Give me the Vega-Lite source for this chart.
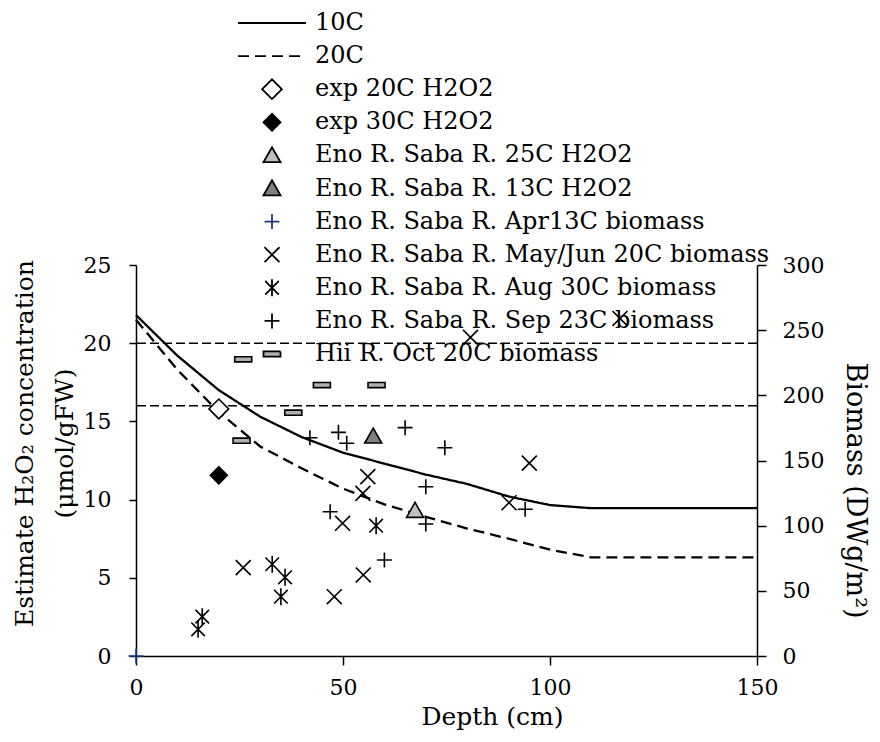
{
  "$schema": "https://vega.github.io/schema/vega-lite/v6.json",
  "width": 621,
  "height": 391,
  "autosize": "none",
  "padding": {"left": 136, "top": 265, "right": 123, "bottom": 86},
  "background": "white",
  "datasets": {
    "lines": [
      {"series": "10C", "depth": 0, "h2o2": 21.8},
      {"series": "10C", "depth": 10, "h2o2": 19.2},
      {"series": "10C", "depth": 20, "h2o2": 17.0},
      {"series": "10C", "depth": 30, "h2o2": 15.3},
      {"series": "10C", "depth": 40, "h2o2": 14.0},
      {"series": "10C", "depth": 50, "h2o2": 13.0},
      {"series": "10C", "depth": 60, "h2o2": 12.3},
      {"series": "10C", "depth": 70, "h2o2": 11.6},
      {"series": "10C", "depth": 80, "h2o2": 11.0},
      {"series": "10C", "depth": 90, "h2o2": 10.2},
      {"series": "10C", "depth": 100, "h2o2": 9.65},
      {"series": "10C", "depth": 110, "h2o2": 9.45},
      {"series": "10C", "depth": 120, "h2o2": 9.45},
      {"series": "10C", "depth": 130, "h2o2": 9.45},
      {"series": "10C", "depth": 140, "h2o2": 9.45},
      {"series": "10C", "depth": 150, "h2o2": 9.45},
      {"series": "20C", "depth": 0, "h2o2": 21.5},
      {"series": "20C", "depth": 10, "h2o2": 18.3},
      {"series": "20C", "depth": 20, "h2o2": 15.6},
      {"series": "20C", "depth": 30, "h2o2": 13.4},
      {"series": "20C", "depth": 40, "h2o2": 12.0},
      {"series": "20C", "depth": 50, "h2o2": 10.7},
      {"series": "20C", "depth": 60, "h2o2": 9.7},
      {"series": "20C", "depth": 70, "h2o2": 8.9},
      {"series": "20C", "depth": 80, "h2o2": 8.15},
      {"series": "20C", "depth": 90, "h2o2": 7.5},
      {"series": "20C", "depth": 100, "h2o2": 6.8},
      {"series": "20C", "depth": 110, "h2o2": 6.3},
      {"series": "20C", "depth": 120, "h2o2": 6.3},
      {"series": "20C", "depth": 130, "h2o2": 6.3},
      {"series": "20C", "depth": 140, "h2o2": 6.3},
      {"series": "20C", "depth": 150, "h2o2": 6.3}
    ],
    "refs": [
      {"h2o2": 20},
      {"h2o2": 16}
    ],
    "h2o2pts": [
      {"series": "exp 20C H2O2", "depth": 20, "h2o2": 15.8},
      {"series": "exp 30C H2O2", "depth": 20, "h2o2": 11.55},
      {"series": "Eno R. Saba R. 25C H2O2", "depth": 67.4, "h2o2": 9.3},
      {"series": "Eno R. Saba R. 13C H2O2", "depth": 57.3, "h2o2": 14.05}
    ],
    "bio": [
      {"series": "Eno R. Saba R. Apr13C biomass", "depth": 0, "biomass": 0},
      {"series": "Eno R. Saba R. May/Jun 20C biomass", "depth": 116.9, "biomass": 259},
      {"series": "Eno R. Saba R. May/Jun 20C biomass", "depth": 80.8, "biomass": 244.5},
      {"series": "Eno R. Saba R. May/Jun 20C biomass", "depth": 95.0, "biomass": 148},
      {"series": "Eno R. Saba R. May/Jun 20C biomass", "depth": 90.1, "biomass": 117.6},
      {"series": "Eno R. Saba R. May/Jun 20C biomass", "depth": 56.0, "biomass": 137.6},
      {"series": "Eno R. Saba R. May/Jun 20C biomass", "depth": 54.8, "biomass": 124.8},
      {"series": "Eno R. Saba R. May/Jun 20C biomass", "depth": 49.9, "biomass": 101.8},
      {"series": "Eno R. Saba R. May/Jun 20C biomass", "depth": 54.9, "biomass": 62.2},
      {"series": "Eno R. Saba R. May/Jun 20C biomass", "depth": 47.9, "biomass": 45.5},
      {"series": "Eno R. Saba R. May/Jun 20C biomass", "depth": 25.9, "biomass": 67.8},
      {"series": "Eno R. Saba R. Aug 30C biomass", "depth": 58.0, "biomass": 100},
      {"series": "Eno R. Saba R. Aug 30C biomass", "depth": 32.9, "biomass": 70.4},
      {"series": "Eno R. Saba R. Aug 30C biomass", "depth": 36.0, "biomass": 60.4},
      {"series": "Eno R. Saba R. Aug 30C biomass", "depth": 35.0, "biomass": 45.5},
      {"series": "Eno R. Saba R. Aug 30C biomass", "depth": 16.0, "biomass": 30.2},
      {"series": "Eno R. Saba R. Aug 30C biomass", "depth": 15.0, "biomass": 20.5},
      {"series": "Eno R. Saba R. Sep 23C biomass", "depth": 42.0, "biomass": 167.5},
      {"series": "Eno R. Saba R. Sep 23C biomass", "depth": 48.9, "biomass": 171.6},
      {"series": "Eno R. Saba R. Sep 23C biomass", "depth": 50.9, "biomass": 163.2},
      {"series": "Eno R. Saba R. Sep 23C biomass", "depth": 65.0, "biomass": 175.2},
      {"series": "Eno R. Saba R. Sep 23C biomass", "depth": 74.6, "biomass": 159.8},
      {"series": "Eno R. Saba R. Sep 23C biomass", "depth": 70.0, "biomass": 129.9},
      {"series": "Eno R. Saba R. Sep 23C biomass", "depth": 70.0, "biomass": 101.3},
      {"series": "Eno R. Saba R. Sep 23C biomass", "depth": 60.0, "biomass": 73.7},
      {"series": "Eno R. Saba R. Sep 23C biomass", "depth": 46.9, "biomass": 110.7},
      {"series": "Eno R. Saba R. Sep 23C biomass", "depth": 94.0, "biomass": 112.6},
      {"series": "Hii R. Oct 20C biomass", "depth": 25.9, "biomass": 227.6},
      {"series": "Hii R. Oct 20C biomass", "depth": 44.9, "biomass": 207.9},
      {"series": "Hii R. Oct 20C biomass", "depth": 58.1, "biomass": 207.9},
      {"series": "Hii R. Oct 20C biomass", "depth": 38.0, "biomass": 186.7},
      {"series": "Hii R. Oct 20C biomass", "depth": 25.5, "biomass": 165.2}
    ]
  },
  "config": {
    "view": {"stroke": null},
    "font": "DejaVu Serif",
    "axis": {
      "grid": false,
      "domainColor": "black",
      "domainWidth": 1.5,
      "tickColor": "black",
      "tickWidth": 1.5,
      "labelColor": "black",
      "titleColor": "black",
      "labelFont": "DejaVu Serif",
      "titleFont": "DejaVu Serif",
      "labelFontSize": 22,
      "titleFontSize": 25,
      "titleFontWeight": "normal",
      "labelFlush": false,
      "labelOverlap": false
    },
    "legend": {
      "orient": "none",
      "legendX": 101,
      "legendY": -254,
      "symbolSize": 4624,
      "symbolStrokeWidth": 1.8,
      "symbolStrokeColor": "black",
      "labelFont": "DejaVu Serif",
      "labelFontSize": 24,
      "labelColor": "black",
      "labelLimit": 0,
      "clipHeight": 24,
      "rowPadding": 9.1,
      "labelOffset": 8,
      "padding": 0
    }
  },
  "layer": [
    {
      "layer": [
        {
          "data": {"name": "refs"},
          "mark": {"type": "rule", "color": "black", "strokeWidth": 1.6, "strokeDash": [9, 4]},
          "encoding": {
            "y": {"field": "h2o2", "type": "quantitative", "scale": {"domain": [0, 25], "nice": false}}
          }
        },
        {
          "data": {"name": "lines"},
          "mark": {"type": "line", "strokeWidth": 2.3},
          "encoding": {
            "x": {"field": "depth", "type": "quantitative", "scale": {"domain": [0, 150], "nice": false}, "axis": {"values": [0, 50, 100, 150], "tickSize": 9, "labelPadding": 12, "title": "Depth (cm)", "titlePadding": 6, "titleX": 356}},
            "y": {"field": "h2o2", "type": "quantitative", "scale": {"domain": [0, 25], "nice": false}, "axis": {"orient": "left", "values": [0, 5, 10, 15, 20, 25], "tickSize": 7, "labelPadding": 18, "title": ["Estimate H₂O₂ concentration", "(μmol/gFW)"], "titlePadding": 6, "titleLineHeight": 40, "titleY": 178}},
            "stroke": {"field": "series", "type": "nominal", "legend": {"title": null}, "scale": {"domain": ["10C", "20C", "exp 20C H2O2", "exp 30C H2O2", "Eno R. Saba R. 25C H2O2", "Eno R. Saba R. 13C H2O2", "Eno R. Saba R. Apr13C biomass", "Eno R. Saba R. May/Jun 20C biomass", "Eno R. Saba R. Aug 30C biomass", "Eno R. Saba R. Sep 23C biomass", "Hii R. Oct 20C biomass"], "range": ["black", "black", "black", "black", "black", "black", "#1a3a80", "black", "black", "black", "black"]}},
            "strokeDash": {"field": "series", "type": "nominal", "legend": {"title": null}, "scale": {"domain": ["10C", "20C", "exp 20C H2O2", "exp 30C H2O2", "Eno R. Saba R. 25C H2O2", "Eno R. Saba R. 13C H2O2", "Eno R. Saba R. Apr13C biomass", "Eno R. Saba R. May/Jun 20C biomass", "Eno R. Saba R. Aug 30C biomass", "Eno R. Saba R. Sep 23C biomass", "Hii R. Oct 20C biomass"], "range": [[1, 0], [11, 6], [1, 0], [1, 0], [1, 0], [1, 0], [1, 0], [1, 0], [1, 0], [1, 0], [1, 0]]}}
          }
        },
        {
          "data": {"name": "h2o2pts"},
          "mark": {"type": "point", "size": 4624, "opacity": 1, "strokeWidth": 1.6},
          "encoding": {
            "x": {"field": "depth", "type": "quantitative", "scale": {"domain": [0, 150], "nice": false}},
            "y": {"field": "h2o2", "type": "quantitative", "scale": {"domain": [0, 25], "nice": false}},
            "shape": {"field": "series", "type": "nominal", "legend": {"title": null}, "scale": {"domain": ["10C", "20C", "exp 20C H2O2", "exp 30C H2O2", "Eno R. Saba R. 25C H2O2", "Eno R. Saba R. 13C H2O2", "Eno R. Saba R. Apr13C biomass", "Eno R. Saba R. May/Jun 20C biomass", "Eno R. Saba R. Aug 30C biomass", "Eno R. Saba R. Sep 23C biomass", "Hii R. Oct 20C biomass"], "range": ["M-1,0L1,0", "M-1,0L1,0", "M0,-0.29L0.29,0L0,0.29L-0.29,0Z", "M0,-0.25L0.25,0L0,0.25L-0.25,0Z", "M0,-0.24L0.25,0.2L-0.25,0.2Z", "M0,-0.24L0.25,0.2L-0.25,0.2Z", "M-0.22,0L0.22,0M0,-0.22L0,0.22", "M-0.22,-0.22L0.22,0.22M-0.22,0.22L0.22,-0.22", "M-0.2,-0.2L0.2,0.2M-0.2,0.2L0.2,-0.2M0,-0.25L0,0.25", "M-0.22,0L0.22,0M0,-0.22L0,0.22", "M-0.25,-0.075L0.25,-0.075L0.25,0.075L-0.25,0.075Z"]}},
            "fill": {"field": "series", "type": "nominal", "legend": {"title": null}, "scale": {"domain": ["10C", "20C", "exp 20C H2O2", "exp 30C H2O2", "Eno R. Saba R. 25C H2O2", "Eno R. Saba R. 13C H2O2", "Eno R. Saba R. Apr13C biomass", "Eno R. Saba R. May/Jun 20C biomass", "Eno R. Saba R. Aug 30C biomass", "Eno R. Saba R. Sep 23C biomass", "Hii R. Oct 20C biomass"], "range": ["transparent", "transparent", "white", "black", "#c0c0c0", "#808080", "transparent", "transparent", "transparent", "transparent", "#b0b0b0"]}},
            "stroke": {"field": "series", "type": "nominal", "legend": {"title": null}, "scale": {"domain": ["10C", "20C", "exp 20C H2O2", "exp 30C H2O2", "Eno R. Saba R. 25C H2O2", "Eno R. Saba R. 13C H2O2", "Eno R. Saba R. Apr13C biomass", "Eno R. Saba R. May/Jun 20C biomass", "Eno R. Saba R. Aug 30C biomass", "Eno R. Saba R. Sep 23C biomass", "Hii R. Oct 20C biomass"], "range": ["black", "black", "black", "black", "black", "black", "#1a3a80", "black", "black", "black", "black"]}}
          }
        }
      ]
    },
    {
      "data": {"name": "bio"},
      "mark": {"type": "point", "size": 4624, "opacity": 1, "strokeWidth": 1.6},
      "encoding": {
        "x": {"field": "depth", "type": "quantitative", "scale": {"domain": [0, 150], "nice": false}},
        "y": {"field": "biomass", "type": "quantitative", "scale": {"domain": [0, 300], "nice": false}, "axis": {"orient": "right", "values": [0, 50, 100, 150, 200, 250, 300], "tickSize": 9, "labelPadding": 16, "title": "Biomass (DWg/m²)", "titleFontSize": 27, "titlePadding": 17, "titleY": 225}},
        "shape": {"field": "series", "type": "nominal", "legend": {"title": null}, "scale": {"domain": ["10C", "20C", "exp 20C H2O2", "exp 30C H2O2", "Eno R. Saba R. 25C H2O2", "Eno R. Saba R. 13C H2O2", "Eno R. Saba R. Apr13C biomass", "Eno R. Saba R. May/Jun 20C biomass", "Eno R. Saba R. Aug 30C biomass", "Eno R. Saba R. Sep 23C biomass", "Hii R. Oct 20C biomass"], "range": ["M-1,0L1,0", "M-1,0L1,0", "M0,-0.29L0.29,0L0,0.29L-0.29,0Z", "M0,-0.25L0.25,0L0,0.25L-0.25,0Z", "M0,-0.24L0.25,0.2L-0.25,0.2Z", "M0,-0.24L0.25,0.2L-0.25,0.2Z", "M-0.22,0L0.22,0M0,-0.22L0,0.22", "M-0.22,-0.22L0.22,0.22M-0.22,0.22L0.22,-0.22", "M-0.2,-0.2L0.2,0.2M-0.2,0.2L0.2,-0.2M0,-0.25L0,0.25", "M-0.22,0L0.22,0M0,-0.22L0,0.22", "M-0.25,-0.075L0.25,-0.075L0.25,0.075L-0.25,0.075Z"]}},
        "fill": {"field": "series", "type": "nominal", "legend": {"title": null}, "scale": {"domain": ["10C", "20C", "exp 20C H2O2", "exp 30C H2O2", "Eno R. Saba R. 25C H2O2", "Eno R. Saba R. 13C H2O2", "Eno R. Saba R. Apr13C biomass", "Eno R. Saba R. May/Jun 20C biomass", "Eno R. Saba R. Aug 30C biomass", "Eno R. Saba R. Sep 23C biomass", "Hii R. Oct 20C biomass"], "range": ["transparent", "transparent", "white", "black", "#c0c0c0", "#808080", "transparent", "transparent", "transparent", "transparent", "#b0b0b0"]}},
        "stroke": {"field": "series", "type": "nominal", "legend": {"title": null}, "scale": {"domain": ["10C", "20C", "exp 20C H2O2", "exp 30C H2O2", "Eno R. Saba R. 25C H2O2", "Eno R. Saba R. 13C H2O2", "Eno R. Saba R. Apr13C biomass", "Eno R. Saba R. May/Jun 20C biomass", "Eno R. Saba R. Aug 30C biomass", "Eno R. Saba R. Sep 23C biomass", "Hii R. Oct 20C biomass"], "range": ["black", "black", "black", "black", "black", "black", "#1a3a80", "black", "black", "black", "black"]}}
      }
    }
  ],
  "resolve": {"scale": {"y": "independent"}}
}
